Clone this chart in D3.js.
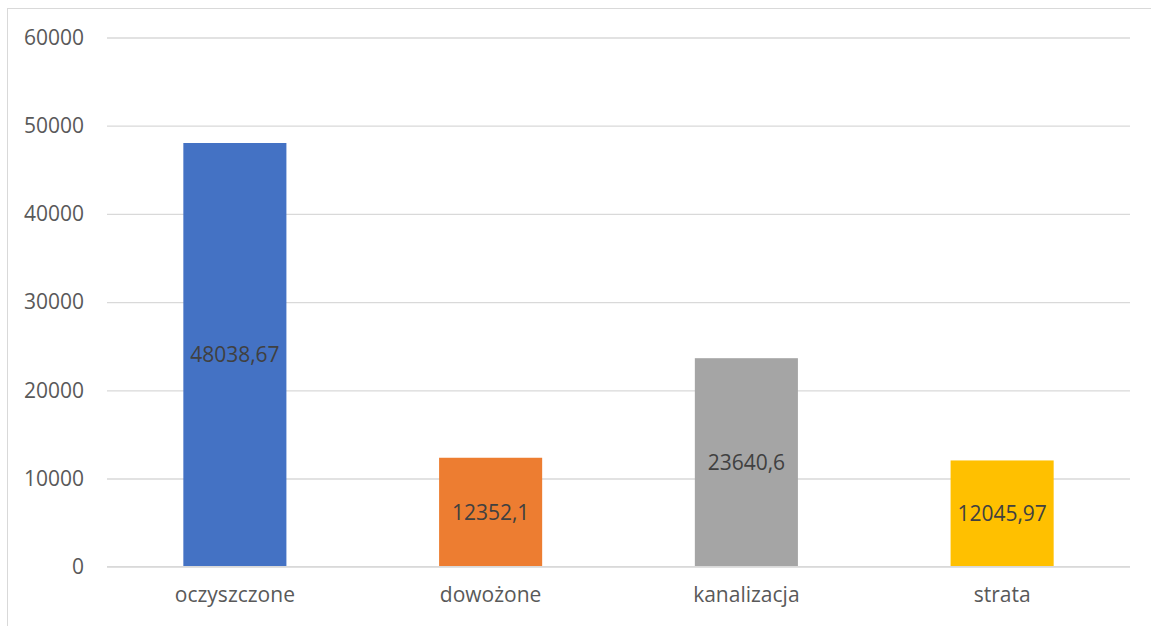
<!DOCTYPE html>
<html><head><meta charset="utf-8">
<script src="https://cdn.jsdelivr.net/npm/d3@7"></script>
<style>body{margin:0;background:#fff;}svg{display:block;}</style>
</head><body>
<svg id="c" width="1151" height="626"></svg>
<script>
const categories = ["oczyszczone", "dowożone", "kanalizacja", "strata"];
const values = [48038.67, 12352.1, 23640.6, 12045.97];
const labels = ["48038,67", "12352,1", "23640,6", "12045,97"];
const colors = ["#4472C4", "#ED7D31", "#A5A5A5", "#FFC000"];
const yTicks = [0, 10000, 20000, 30000, 40000, 50000, 60000];

(function () {
const svg = d3.select("#c");
const font = "Open Sans, sans-serif";
svg.append("rect").attr("x", 7.5).attr("y", 8.5).attr("width", 1200).attr("height", 700)
  .attr("fill", "#fff").attr("stroke", "#D9D9D9").attr("stroke-width", 1);

const pLeft = 107, pRight = 1130, pTop = 37.5, pBottom = 566.7;
const x = d3.scaleBand().domain(categories).range([pLeft, pRight]).paddingInner(0.597).paddingOuter(0.2985);
const y = d3.scaleLinear().domain([0, 60000]).range([pBottom, pTop]);

const gy = svg.append("g").attr("transform", `translate(${pLeft},0)`)
  .call(d3.axisLeft(y).tickValues(yTicks).tickSize(-(pRight - pLeft)).tickPadding(23).tickFormat(d => String(d)));
gy.select(".domain").remove();
gy.selectAll(".tick line").attr("stroke", "#D9D9D9").attr("stroke-width", 1.3);
gy.selectAll(".tick text").attr("fill", "#595959").attr("font-family", font).attr("font-size", 21);

svg.append("g").selectAll("rect").data(values).join("rect")
  .attr("x", (d, i) => x(categories[i])).attr("width", x.bandwidth())
  .attr("y", d => y(d)).attr("height", d => y(0) - y(d))
  .attr("fill", (d, i) => colors[i]);

svg.append("line").attr("x1", pLeft).attr("x2", pRight).attr("y1", y(0)).attr("y2", y(0))
  .attr("stroke", "#D9D9D9").attr("stroke-width", 1.3);

svg.append("g").selectAll("text").data(values).join("text")
  .attr("x", (d, i) => x(categories[i]) + x.bandwidth() / 2)
  .attr("y", d => (y(d) + y(0)) / 2)
  .attr("dy", "0.35em").attr("text-anchor", "middle")
  .attr("fill", "#404040").attr("font-family", font).attr("font-size", 21)
  .text((d, i) => labels[i]);

const gx = svg.append("g").attr("transform", `translate(0,${pBottom})`)
  .call(d3.axisBottom(x).tickSize(0).tickPadding(20));
gx.select(".domain").remove();
gx.selectAll(".tick text").attr("fill", "#595959").attr("font-family", font).attr("font-size", 21);
})();
</script>
</body></html>
